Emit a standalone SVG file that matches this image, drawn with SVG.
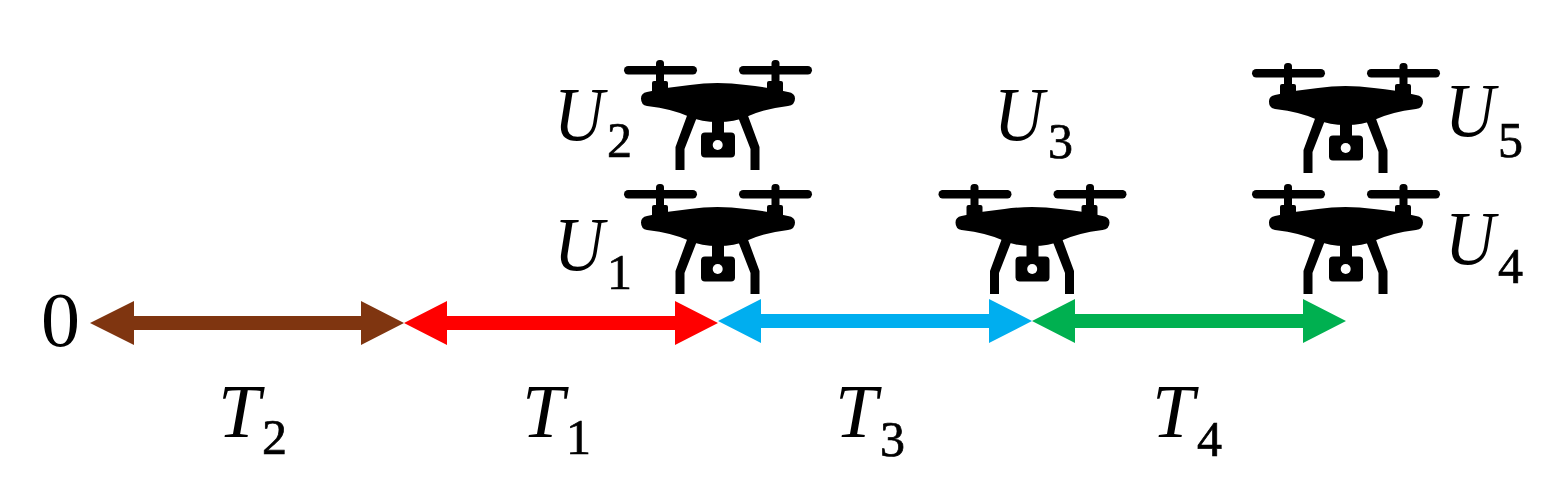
<svg xmlns="http://www.w3.org/2000/svg" width="1560" height="499" viewBox="0 0 1560 499">
<style>
.m{font-family:"Liberation Serif","DejaVu Serif",serif;font-style:italic;font-size:76px;fill:#000}
.s{font-family:"Liberation Serif","DejaVu Serif",serif;font-size:50px;fill:#000;stroke:#000;stroke-width:.7px}
.z{font-family:"Liberation Serif","DejaVu Serif",serif;font-size:78px;fill:#000}
</style>
<defs>
<g id="drone" fill="#000">
<rect x="624" y="66" width="73" height="8.500" rx="4.200"/>
<rect x="739" y="66" width="73" height="8.500" rx="4.200"/>
<rect x="656" y="60" width="8" height="26" rx="3.500"/>
<rect x="771.500" y="60" width="8" height="26" rx="3.500"/>
<rect x="652" y="81" width="16" height="13" rx="2"/>
<rect x="767" y="81" width="16" height="13" rx="2"/>
<path d="M647 92Q668 87 690 85Q717 81 746 85Q768 87 788 92Q795 93 795 98.500Q795 105 788 106Q763 109 746 117Q735 122 718 122Q701 122 690 117Q673 109 647 106Q641 105 641 98.500Q641 93 647 92Z"/>
<path d="M688 113L675.500 147V170H684.500V149L697 117ZM747 113L759.500 147V170H750.500V149L738 117Z"/>
<path d="M712 118H724V132.500H731Q735 132.500 735 136.500V153.500Q735 157.500 731 157.500H705Q701 157.500 701 153.500V136.500Q701 132.500 705 132.500H712Z"/>
<circle cx="717.700" cy="145" r="5" fill="#fff"/>
</g>
</defs>
<rect width="1560" height="499" fill="#fff"/>
<g id="connectors">
<polygon fill="#7F3510" points="90,323 134,301 134,316 361,316 361,301 404,323 361,345 361,330 134,330 134,345"/>
<polygon fill="#FF0000" points="404,323 447,301 447,316 675,316 675,301 718,323 675,345 675,330 447,330 447,345"/>
<polygon fill="#00AEEF" points="718,321 761,299 761,314 989,314 989,299 1032,321 989,343 989,328 761,328 761,343"/>
<polygon fill="#00B050" points="1032,321 1075,299 1075,314 1303,314 1303,299 1346,321 1303,343 1303,328 1075,328 1075,343"/>
</g>
<g id="U1"><use href="#drone" y="124"/><text class="m" x="554" y="270" textLength="50" lengthAdjust="spacingAndGlyphs">U</text><text class="s" x="607" y="289">1</text></g>
<g id="U2"><use href="#drone"/><text class="m" x="554" y="140" textLength="50" lengthAdjust="spacingAndGlyphs">U</text><text class="s" x="607" y="157">2</text></g>
<g id="U3"><use href="#drone" x="314.500" y="124"/><text class="m" x="994" y="140" textLength="50" lengthAdjust="spacingAndGlyphs">U</text><text class="s" x="1048" y="158">3</text></g>
<g id="U4"><use href="#drone" x="628" y="124"/><text class="m" x="1445" y="264" textLength="50" lengthAdjust="spacingAndGlyphs">U</text><text class="s" x="1498" y="283">4</text></g>
<g id="U5"><use href="#drone" x="628" y="3"/><text class="m" x="1445" y="136" textLength="50" lengthAdjust="spacingAndGlyphs">U</text><text class="s" x="1498" y="157">5</text></g>
<g id="origin"><text class="z" x="41" y="346">0</text></g>
<g id="T2"><text class="m" x="218" y="437">T</text><text class="s" x="262" y="454">2</text></g>
<g id="T1"><text class="m" x="522" y="437">T</text><text class="s" x="566" y="454">1</text></g>
<g id="T3"><text class="m" x="835" y="437">T</text><text class="s" x="880" y="456">3</text></g>
<g id="T4"><text class="m" x="1152" y="437">T</text><text class="s" x="1197" y="456">4</text></g>
</svg>
